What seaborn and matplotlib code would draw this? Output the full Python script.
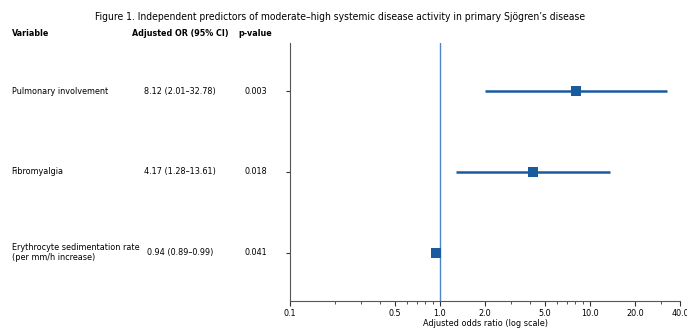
import pandas as pd
import matplotlib.pyplot as plt
import matplotlib.transforms as mtransforms
from matplotlib.ticker import FixedLocator, FixedFormatter, LogLocator, NullFormatter
import seaborn as sns

sns.set_theme(style='white')
plt.rcParams['font.family'] = ['DejaVu Sans']

variables = ['Pulmonary involvement', 'Fibromyalgia',
             'Erythrocyte sedimentation rate\n(per mm/h increase)']
odds_ratio = [8.12, 4.17, 0.94]
ci_low = [2.01, 1.28, 0.89]
ci_high = [32.78, 13.61, 0.99]
or_text = ['8.12 (2.01–32.78)', '4.17 (1.28–13.61)', '0.94 (0.89–0.99)']
p_values = ['0.003', '0.018', '0.041']
x_ticks = [0.1, 0.5, 1.0, 2.0, 5.0, 10.0, 20.0, 40.0]

MARK = '#1a5a9e'
REF = '#4a86c8'
BODY = dict(family='DejaVu Sans', stretch='condensed', color='black')
HEAD = dict(family='DejaVu Sans', stretch='condensed', weight='bold', color='black')


def main():
    df = pd.DataFrame({'variable': variables, 'or': odds_ratio,
                       'lo': ci_low, 'hi': ci_high})
    df['row'] = range(len(df))

    fig = plt.figure(figsize=(6.87, 3.31), dpi=100)
    ax = fig.add_axes([0.422, 0.091, 0.568, 0.779])

    ax.axvline(1.0, color=REF, lw=1, zorder=1)
    ax.hlines(df['row'], df['lo'], df['hi'], color=MARK, lw=1.8, zorder=2)
    sns.scatterplot(data=df, x='or', y='row', marker='s', s=42, color=MARK,
                    edgecolor=MARK, linewidth=0, zorder=3, ax=ax, legend=False)

    ax.set_xscale('log')
    ax.set_xlim(0.1, 40)
    ax.set_ylim(len(df) - 0.4, -0.6)
    ax.xaxis.set_major_locator(FixedLocator(x_ticks))
    ax.xaxis.set_major_formatter(FixedFormatter([f'{t:.1f}' for t in x_ticks]))
    ax.xaxis.set_minor_locator(LogLocator(base=10, subs=range(2, 10)))
    ax.xaxis.set_minor_formatter(NullFormatter())
    ax.set_yticks(df['row'])
    ax.set_yticklabels([])
    ax.tick_params(axis='x', which='major', direction='out', length=3.5,
                   width=0.8, labelsize=6.5, pad=2, bottom=True, colors='#333333')
    ax.tick_params(axis='x', which='minor', direction='out', length=2,
                   width=0.6, bottom=True, colors='#333333')
    ax.tick_params(axis='y', direction='out', length=3, width=0.8, left=True,
                   colors='#333333')
    for lab in ax.get_xticklabels():
        lab.set_fontstretch('condensed')
        lab.set_color('black')
    ax.set_xlabel('Adjusted odds ratio (log scale)', fontsize=6.5, labelpad=1,
                  fontstretch='condensed', color='black')
    ax.set_ylabel('')
    sns.despine(ax=ax)
    for s in ['left', 'bottom']:
        ax.spines[s].set_color('#555555')
        ax.spines[s].set_linewidth(0.8)

    fig.text(0.495, 0.948, 'Figure 1. Independent predictors of moderate–high '
             'systemic disease activity in primary Sjögren’s disease',
             ha='center', va='center', fontsize=7.4, **BODY)
    fig.text(0.017, 0.9, 'Variable', ha='left', va='center', fontsize=6.4, **HEAD)
    fig.text(0.262, 0.9, 'Adjusted OR (95% CI)', ha='center', va='center',
             fontsize=6.4, **HEAD)
    fig.text(0.372, 0.9, 'p-value', ha='center', va='center', fontsize=6.4, **HEAD)

    trans = mtransforms.blended_transform_factory(fig.transFigure, ax.transData)
    for i in range(len(df)):
        fig.text(0.017, i, variables[i], transform=trans, ha='left',
                 va='center', fontsize=6.5, linespacing=1.05, **BODY)
        fig.text(0.262, i, or_text[i], transform=trans, ha='center',
                 va='center', fontsize=6.5, **BODY)
        fig.text(0.372, i, p_values[i], transform=trans, ha='center',
                 va='center', fontsize=6.5, **BODY)

    fig.savefig('out.png', dpi=100)


if __name__ == '__main__':
    main()
